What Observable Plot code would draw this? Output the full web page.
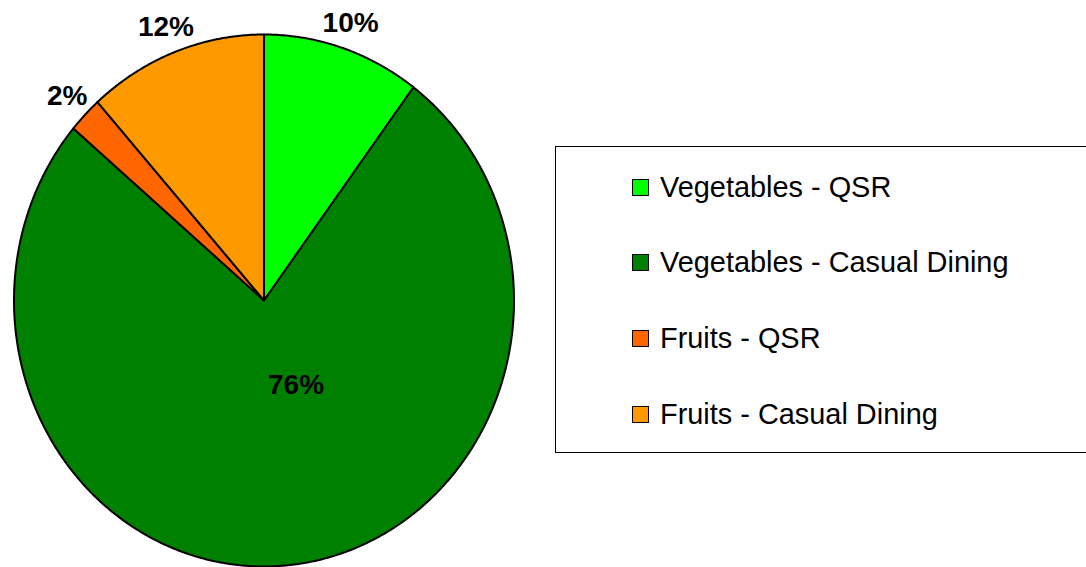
<!DOCTYPE html>
<html>
<head>
<meta charset="utf-8">
<script src="https://cdn.jsdelivr.net/npm/d3@7"></script>
<script src="https://cdn.jsdelivr.net/npm/@observablehq/plot@0.6"></script>
<style>
  html, body { margin: 0; padding: 0; background: #fff; }
  #wrap { position: relative; width: 1086px; height: 567px; overflow: hidden; font-family: "Liberation Sans", Arial, sans-serif; }
  #legend { position: absolute; left: 555px; top: 146px; width: 560px; height: 307px; border: 1px solid #000; box-sizing: border-box; background: #fff; }
  .row { position: absolute; left: 0; height: 34px; display: flex; align-items: center; }
  .sw { width: 17px; height: 17px; box-sizing: border-box; border: 1.5px solid #000; margin-left: 76px; margin-right: 11px; }
  .lab { font-size: 28.9px; color: #000; white-space: nowrap; }
</style>
</head>
<body>
<div id="wrap"></div>
<script>
// Data
const categories = ["Vegetables - QSR", "Vegetables - Casual Dining", "Fruits - QSR", "Fruits - Casual Dining"];
const values = [10.2, 76.0, 2.2, 11.6];
const colors = ["#00FF00", "#008000", "#FF6600", "#FF9900"];

// Build slice polygons (angles clockwise from 12 o'clock) with d3.pie
const pie = d3.pie().sort(null).value(d => d.value).startAngle(0).endAngle(2 * Math.PI);
const rows = categories.map((c, i) => ({category: c, value: values[i], color: colors[i]}));
const arcs = pie(rows);
const total = d3.sum(values);

const slicePts = [];
arcs.forEach((a, i) => {
  slicePts.push({key: i, x: 0, y: 0, color: a.data.color});
  const n = Math.max(4, Math.ceil((a.endAngle - a.startAngle) / (Math.PI / 360)));
  for (let k = 0; k <= n; k++) {
    const t = a.startAngle + (a.endAngle - a.startAngle) * k / n;
    slicePts.push({key: i, x: Math.sin(t), y: Math.cos(t), color: a.data.color});
  }
  slicePts.push({key: i, x: 0, y: 0, color: a.data.color});
});

const labels = arcs.map((a, i) => {
  const mid = (a.startAngle + a.endAngle) / 2;
  const inside = a.data.value / total > 0.5;
  const r = inside ? 0.32 : 1.1;
  return {
    x: r * Math.sin(mid), y: r * Math.cos(mid),
    text: Math.round(a.data.value / total * 100) + "%",
    inside
  };
});

const chart = Plot.plot({
  width: 1086,
  height: 567,
  marginLeft: 13.5,
  marginRight: 572.5,
  marginTop: 34,
  marginBottom: 1,
  x: {domain: [-1, 1], axis: null},
  y: {domain: [-1, 1], axis: null},
  color: {type: "identity"},
  style: {background: "transparent", overflow: "visible"},
  marks: [
    Plot.line(slicePts, {x: "x", y: "y", z: "key", fill: "color", stroke: "#000", strokeWidth: 2, strokeLinejoin: "round"}),
    Plot.text(labels.filter(d => !d.inside), {x: "x", y: "y", text: "text", fontSize: 28, fontWeight: "bold", fill: "#000", fontFamily: "Liberation Sans, Arial, sans-serif"}),
    Plot.text(labels.filter(d => d.inside), {x: "x", y: "y", text: "text", dx: 23, fontSize: 28, fontWeight: "bold", fill: "#000", fontFamily: "Liberation Sans, Arial, sans-serif"})
  ]
});

const wrap = document.getElementById("wrap");
chart.style.position = "absolute";
chart.style.left = "0";
chart.style.top = "0";
wrap.appendChild(chart);

// Legend
const legend = document.createElement("div");
legend.id = "legend";
categories.forEach((c, i) => {
  const row = document.createElement("div");
  row.className = "row";
  row.style.top = (40 + i * 75.7 - 17) + "px";
  const sw = document.createElement("div");
  sw.className = "sw";
  sw.style.background = colors[i];
  const lab = document.createElement("div");
  lab.className = "lab";
  lab.textContent = c;
  row.appendChild(sw);
  row.appendChild(lab);
  legend.appendChild(row);
});
wrap.appendChild(legend);
</script>
</body>
</html>
